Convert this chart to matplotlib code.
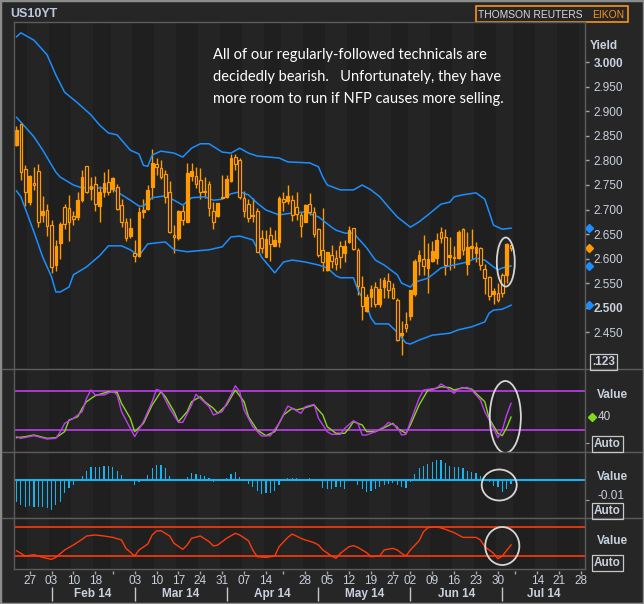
import numpy as np
import pandas as pd
import matplotlib
matplotlib.use("Agg")
import matplotlib.pyplot as plt
from matplotlib.patches import Ellipse, Rectangle
from matplotlib.lines import Line2D
from matplotlib.transforms import blended_transform_factory

plt.rcParams['font.family'] = ['Liberation Sans', 'DejaVu Sans']

# trading calendar (bond market holidays skipped)
holidays = ["2014-02-17", "2014-04-18", "2014-05-26", "2014-07-04"]
days = pd.bdate_range("2014-01-22", "2014-07-31", freq="C", holidays=holidays)

# daily candles, US 10y yield, 22 Jan - 03 Jul 2014
opens = [2.832, 2.874, 2.783, 2.716, 2.755, 2.779, 2.689, 2.700, 2.669, 2.586,
         2.631, 2.705, 2.703, 2.686, 2.684, 2.719, 2.789, 2.741, 2.752, 2.708,
         2.735, 2.757, 2.742, 2.745, 2.709, 2.675, 2.646, 2.611, 2.605, 2.694,
         2.701, 2.745, 2.792, 2.784, 2.772, 2.735, 2.648, 2.641, 2.697, 2.675,
         2.769, 2.768, 2.760, 2.738, 2.751, 2.697, 2.686, 2.724, 2.726, 2.758,
         2.808, 2.801, 2.724, 2.711, 2.686, 2.697, 2.641, 2.604, 2.648, 2.626,
         2.633, 2.721, 2.717, 2.719, 2.705, 2.689, 2.675, 2.711, 2.694, 2.660,
         2.618, 2.576, 2.607, 2.601, 2.626, 2.612, 2.633, 2.662, 2.618, 2.543,
         2.493, 2.521, 2.543, 2.508, 2.543, 2.554, 2.540, 2.516, 2.444, 2.467,
         2.484, 2.528, 2.595, 2.599, 2.580, 2.596, 2.602, 2.654, 2.645, 2.604,
         2.601, 2.602, 2.660, 2.590, 2.622, 2.612, 2.621, 2.579, 2.562, 2.527,
         2.529, 2.567, 2.567, 2.628]
highs = [2.871, 2.878, 2.791, 2.770, 2.787, 2.792, 2.728, 2.711, 2.679, 2.638,
         2.675, 2.711, 2.730, 2.697, 2.735, 2.781, 2.789, 2.767, 2.769, 2.747,
         2.776, 2.782, 2.767, 2.751, 2.721, 2.682, 2.682, 2.638, 2.706, 2.721,
         2.750, 2.823, 2.806, 2.801, 2.781, 2.758, 2.669, 2.700, 2.709, 2.794,
         2.794, 2.786, 2.784, 2.767, 2.758, 2.716, 2.714, 2.770, 2.770, 2.813,
         2.813, 2.804, 2.738, 2.722, 2.724, 2.704, 2.658, 2.658, 2.664, 2.658,
         2.728, 2.735, 2.750, 2.730, 2.735, 2.694, 2.712, 2.733, 2.706, 2.663,
         2.703, 2.614, 2.628, 2.618, 2.636, 2.638, 2.667, 2.663, 2.622, 2.565,
         2.527, 2.546, 2.553, 2.561, 2.563, 2.570, 2.550, 2.519, 2.472, 2.492,
         2.536, 2.599, 2.618, 2.648, 2.631, 2.635, 2.652, 2.664, 2.660, 2.645,
         2.626, 2.658, 2.663, 2.655, 2.660, 2.633, 2.624, 2.588, 2.565, 2.540,
         2.550, 2.570, 2.631, 2.629]
lows = [2.830, 2.760, 2.708, 2.709, 2.740, 2.664, 2.674, 2.647, 2.570, 2.574,
        2.599, 2.660, 2.635, 2.669, 2.679, 2.716, 2.733, 2.719, 2.697, 2.675,
        2.726, 2.730, 2.735, 2.699, 2.664, 2.635, 2.643, 2.593, 2.604, 2.682,
        2.699, 2.722, 2.770, 2.762, 2.714, 2.652, 2.611, 2.638, 2.669, 2.674,
        2.758, 2.743, 2.722, 2.723, 2.686, 2.660, 2.684, 2.723, 2.724, 2.757,
        2.781, 2.722, 2.684, 2.675, 2.675, 2.614, 2.611, 2.603, 2.596, 2.626,
        2.624, 2.697, 2.711, 2.677, 2.679, 2.645, 2.674, 2.689, 2.645, 2.604,
        2.575, 2.574, 2.580, 2.577, 2.580, 2.594, 2.631, 2.618, 2.526, 2.475,
        2.491, 2.502, 2.502, 2.502, 2.519, 2.519, 2.517, 2.432, 2.404, 2.451,
        2.475, 2.523, 2.567, 2.567, 2.529, 2.594, 2.588, 2.631, 2.567, 2.577,
        2.580, 2.599, 2.607, 2.567, 2.599, 2.594, 2.577, 2.527, 2.516, 2.507,
        2.511, 2.521, 2.550, 2.616]
closes = [2.862, 2.776, 2.736, 2.768, 2.749, 2.675, 2.697, 2.667, 2.582, 2.625,
          2.671, 2.670, 2.675, 2.680, 2.719, 2.766, 2.736, 2.748, 2.711, 2.736,
          2.755, 2.736, 2.765, 2.701, 2.675, 2.643, 2.663, 2.605, 2.694, 2.699,
          2.740, 2.794, 2.786, 2.767, 2.726, 2.654, 2.644, 2.698, 2.679, 2.774,
          2.779, 2.751, 2.736, 2.735, 2.704, 2.674, 2.714, 2.726, 2.762, 2.806,
          2.792, 2.726, 2.696, 2.682, 2.689, 2.614, 2.621, 2.640, 2.629, 2.638,
          2.723, 2.716, 2.728, 2.688, 2.690, 2.667, 2.709, 2.694, 2.650, 2.607,
          2.594, 2.613, 2.596, 2.590, 2.603, 2.626, 2.658, 2.620, 2.545, 2.504,
          2.521, 2.538, 2.508, 2.538, 2.557, 2.536, 2.519, 2.434, 2.448, 2.458,
          2.536, 2.596, 2.607, 2.584, 2.599, 2.616, 2.638, 2.641, 2.586, 2.607,
          2.603, 2.655, 2.618, 2.624, 2.626, 2.624, 2.586, 2.560, 2.523, 2.533,
          2.516, 2.529, 2.630, 2.621]

# Bollinger bands (sampled, day index -> yield)
upper_idx = [0, 1, 4, 7, 9, 11, 14, 17, 19, 21, 23, 26, 28, 29, 30, 31, 33, 36, 38, 40,
             42, 44, 47, 49, 51, 53, 55, 60, 62, 67, 69, 70, 71, 74, 77, 79, 81, 83, 85, 87,
             90, 92, 94, 97, 99, 100, 102, 105, 107, 108, 109, 111, 113]
upper_val = [3.052, 3.060, 3.045, 3.015, 2.974, 2.939, 2.917, 2.893, 2.872, 2.856,
             2.852, 2.821, 2.813, 2.790, 2.788, 2.811, 2.819, 2.815, 2.807, 2.825,
             2.834, 2.834, 2.817, 2.815, 2.825, 2.815, 2.809, 2.805, 2.797, 2.795,
             2.787, 2.766, 2.750, 2.740, 2.740, 2.750, 2.740, 2.726, 2.705, 2.685,
             2.664, 2.675, 2.689, 2.711, 2.715, 2.726, 2.730, 2.734, 2.721, 2.695,
             2.668, 2.660, 2.662]
mid_idx = [0, 1, 4, 6, 9, 10, 13, 15, 19, 22, 23, 26, 28, 29, 31, 34, 36, 38, 40, 43,
           45, 47, 49, 51, 53, 55, 57, 60, 63, 66, 69, 72, 73, 75, 77, 80, 82, 84, 87, 88,
           90, 91, 94, 97, 100, 103, 105, 107, 109, 110, 111, 113]
mid_val = [2.888, 2.878, 2.848, 2.821, 2.776, 2.766, 2.750, 2.744, 2.744, 2.742,
           2.736, 2.719, 2.707, 2.707, 2.724, 2.728, 2.719, 2.709, 2.724, 2.726,
           2.719, 2.721, 2.732, 2.736, 2.730, 2.713, 2.699, 2.689, 2.693, 2.695,
           2.685, 2.664, 2.658, 2.652, 2.652, 2.622, 2.597, 2.587, 2.567, 2.550,
           2.542, 2.552, 2.560, 2.581, 2.587, 2.593, 2.601, 2.597, 2.583, 2.577,
           2.581, 2.585]
lower_idx = [0, 1, 4, 6, 8, 9, 10, 12, 13, 16, 19, 21, 24, 26, 28, 30, 34, 36, 39, 44,
             47, 49, 51, 54, 56, 59, 61, 63, 66, 69, 71, 73, 74, 77, 78, 80, 81, 82, 85, 87,
             89, 90, 92, 95, 99, 101, 104, 107, 108, 109, 111, 113]
lower_val = [2.738, 2.726, 2.654, 2.603, 2.563, 2.532, 2.532, 2.542, 2.567, 2.583,
             2.606, 2.626, 2.626, 2.618, 2.606, 2.630, 2.634, 2.618, 2.614, 2.618,
             2.624, 2.644, 2.646, 2.638, 2.603, 2.571, 2.593, 2.597, 2.593, 2.587,
             2.581, 2.565, 2.561, 2.561, 2.536, 2.505, 2.479, 2.467, 2.467, 2.450,
             2.428, 2.426, 2.434, 2.444, 2.448, 2.455, 2.461, 2.471, 2.489, 2.495,
             2.497, 2.505]

# slow stochastic (%K magenta, %D green)
stk_idx = [0, 1, 4, 7, 9, 10, 11, 13, 15, 16, 17, 18, 20, 22, 23, 24, 26, 27, 29, 31,
           32, 33, 35, 37, 38, 40, 41, 42, 44, 45, 47, 49, 50, 51, 52, 54, 56, 58, 60, 62,
           63, 65, 66, 68, 69, 71, 72, 74, 75, 77, 78, 79, 80, 82, 84, 85, 87, 88, 89, 90,
           92, 93, 94, 96, 97, 98, 100, 101, 103, 104, 106, 107, 109, 110, 111, 112, 113]
stk_val = [10.3, 7.7, 11.8, 6.7, 7.7, 17.9, 30.6, 38.3, 48.4, 68.8, 81.5, 73.9, 73.9, 80.0,
           73.9, 48.4, 23.0, 10.3, 33.2, 63.7, 82.5, 80.0, 53.5, 32.1, 32.1, 58.6, 74.9,
           68.8, 56.1, 43.4, 48.4, 73.9, 88.1, 79.0, 51.0, 25.5, 11.3, 11.8, 30.6, 57.1,
           53.5, 45.9, 56.1, 59.6, 38.3, 17.9, 13.8, 13.8, 23.0, 34.7, 30.6, 12.8, 12.8,
           17.9, 25.5, 32.1, 25.5, 12.8, 13.8, 33.2, 68.8, 81.5, 82.5, 84.1, 90.7, 86.6,
           76.4, 83.0, 85.6, 81.5, 66.3, 48.4, 23.0, 8.7, 20.4, 43.4, 61.2]
std_idx = [0, 2, 4, 7, 9, 11, 12, 14, 15, 16, 18, 19, 21, 23, 24, 26, 27, 29, 31, 33,
           34, 36, 37, 39, 40, 42, 43, 45, 46, 48, 50, 52, 53, 55, 57, 59, 61, 63, 64, 66,
           68, 70, 71, 73, 75, 76, 77, 79, 80, 82, 84, 86, 87, 89, 90, 92, 94, 95, 97, 99,
           100, 102, 104, 105, 107, 108, 110, 111, 112, 113]
std_val = [8.7, 10.3, 12.8, 7.7, 8.7, 17.9, 35.7, 40.8, 53.5, 63.7, 72.9, 74.9, 79.0, 78.0,
           61.2, 38.3, 17.9, 30.6, 58.6, 79.0, 71.4, 48.4, 33.2, 48.4, 63.7, 71.4, 63.7,
           53.5, 45.9, 58.6, 81.5, 63.7, 40.8, 20.4, 11.8, 17.9, 43.4, 53.5, 51.0, 54.5,
           58.6, 43.4, 25.5, 15.4, 15.4, 23.0, 33.2, 28.1, 17.9, 17.9, 24.0, 30.6, 23.0,
           15.4, 28.1, 58.6, 81.5, 82.5, 86.6, 85.1, 81.5, 85.1, 83.0, 76.4, 63.7, 38.3,
           15.4, 11.8, 24.0, 40.2]

# MACD histogram, one bar per day
hist_val = [-0.0107, -0.0123, -0.0135, -0.0128, -0.0132, -0.0135, -0.0132, -0.0140, -0.0148, -0.0123,
            -0.0107, -0.0062, -0.0040, -0.0023, 0.0000, 0.0022, 0.0048, 0.0065, 0.0065, 0.0065,
            0.0072, 0.0072, 0.0065, 0.0048, 0.0027, 0.0005, 0.0000, -0.0025, -0.0008, 0.0003,
            0.0027, 0.0060, 0.0077, 0.0077, 0.0060, 0.0022, 0.0000, 0.0000, 0.0003, 0.0015,
            0.0035, 0.0032, 0.0027, 0.0022, 0.0012, -0.0008, 0.0000, 0.0003, 0.0012, 0.0032,
            0.0042, 0.0018, 0.0000, -0.0018, -0.0035, -0.0052, -0.0068, -0.0065, -0.0065, -0.0052,
            -0.0023, 0.0000, 0.0012, 0.0012, 0.0012, 0.0000, 0.0008, 0.0012, 0.0000, 0.0000,
            -0.0040, -0.0045, -0.0045, -0.0035, -0.0035, -0.0045, 0.0000, 0.0000, -0.0023, -0.0045,
            -0.0057, -0.0052, -0.0045, -0.0032, -0.0023, -0.0018, -0.0012, -0.0023, -0.0035, -0.0040,
            -0.0008, 0.0032, 0.0060, 0.0072, 0.0082, 0.0093, 0.0102, 0.0102, 0.0085, 0.0072,
            0.0065, 0.0065, 0.0060, 0.0048, 0.0043, 0.0035, 0.0022, 0.0000, -0.0008, -0.0028,
            -0.0032, -0.0057, -0.0045, -0.0018]

# RSI (sampled)
rsi_idx = [0, 1, 2, 4, 6, 8, 9, 11, 13, 15, 16, 18, 20, 22, 24, 25, 27, 28, 30, 31,
           32, 33, 35, 36, 38, 39, 40, 42, 44, 45, 46, 48, 50, 51, 53, 54, 55, 57, 59, 60,
           62, 63, 65, 66, 68, 69, 70, 72, 73, 74, 76, 77, 78, 80, 81, 83, 84, 86, 87, 88,
           89, 90, 92, 93, 94, 96, 98, 100, 102, 103, 105, 106, 107, 109, 110, 111, 113]
rsi_val = [37.7, 34.1, 30.4, 32.2, 28.5, 25.8, 28.5, 38.7, 45.6, 53.4, 58.0, 59.4, 58.0, 56.1,
           52.5, 41.0, 30.4, 38.7, 46.9, 59.4, 64.9, 65.3, 58.0, 47.9, 39.6, 45.6, 54.8, 58.0,
           50.2, 44.2, 45.6, 54.8, 61.7, 59.4, 51.5, 38.7, 29.5, 28.5, 30.4, 43.3, 56.1, 60.7,
           54.8, 52.5, 48.8, 45.6, 38.7, 30.4, 27.2, 34.1, 43.3, 44.6, 42.3, 35.0, 29.5, 30.4,
           38.7, 41.0, 38.7, 34.1, 30.4, 38.7, 51.5, 63.9, 69.5, 70.9, 67.2, 62.6, 56.1, 56.1,
           56.1, 52.5, 43.3, 34.1, 26.7, 30.4, 45.6]

# date axis
day_ticks = ["2014-01-27", "2014-02-03", "2014-02-10", "2014-02-18", "2014-03-03",
             "2014-03-10", "2014-03-17", "2014-03-24", "2014-03-31", "2014-04-07",
             "2014-04-14", "2014-04-28", "2014-05-05", "2014-05-12", "2014-05-19",
             "2014-05-27", "2014-06-02", "2014-06-09", "2014-06-16", "2014-06-23",
             "2014-06-30", "2014-07-14", "2014-07-21", "2014-07-28"]
blank_ticks = ["2014-02-24", "2014-04-21", "2014-07-07"]
month_labels = ["Feb 14", "Mar 14", "Apr 14", "May 14", "Jun 14", "Jul 14"]

note = ["All of our regularly-followed technicals are",
        "decidedly bearish.   Unfortunately, they have",
        "more room to run if NFP causes more selling."]

# colours
BG = '#1f1f1f'
STRIPE = '#242424'
FRAME = '#262626'
GRID = '#5c5c5c'
LBL = '#c9d1de'
ORANGE = '#ff9a00'
BLUE = '#1b8fff'
MAGENTA = '#c23cf2'
GREEN = '#84d81c'
CYAN = '#18b4f2'
RED = '#ff3a0a'
RING = '#d6d6d6'

W, H = 644, 604
XMIN, XMAX = -0.57, 129.9

fig = plt.figure(figsize=(W / 100, H / 100), dpi=100)
fig.patch.set_facecolor(FRAME)


def fx(px):
    return px / W


def fy(py):
    return 1 - py / H


def panel(top, bottom):
    a = fig.add_axes([fx(14), fy(bottom), fx(585) - fx(14), (bottom - top) / H])
    a.set_facecolor(BG)
    a.set_xlim(XMIN, XMAX)
    a.set_xticks([])
    for s in a.spines.values():
        s.set_visible(False)
    return a


ax = panel(22, 368)
ax_st = panel(369, 451)
ax_h = panel(452, 517)
ax_r = panel(518, 569)
ax_d = fig.add_axes([fx(14), 0, fx(585) - fx(14), fy(569)])
ax_d.set_xlim(XMIN, XMAX)
ax_d.set_ylim(0, 1)
ax_d.axis('off')

# weekly background stripes
wk = days.isocalendar().week.to_numpy()
week_starts = [0] + [j for j in range(1, len(days)) if wk[j] != wk[j - 1]]
week_ends = week_starts[1:] + [len(days)]
for a in (ax, ax_st, ax_h, ax_r):
    for k, (s0, s1) in enumerate(zip(week_starts, week_ends)):
        if k % 2 == 1:
            a.axvspan(s0 - 0.5, s1 - 0.5, color=STRIPE, lw=0, zorder=0)

x = np.arange(len(closes))
o = np.array(opens)
c = np.array(closes)

# --- main panel: candles + bollinger
ax.vlines(x, lows, highs, color=ORANGE, lw=1.0, zorder=2)
face = [ORANGE if cc > oo else BG for oo, cc in zip(o, c)]
ax.bar(x, np.maximum(np.abs(c - o), 0.0015), bottom=np.minimum(o, c), width=0.62,
       color=face, edgecolor=ORANGE, linewidth=0.9, zorder=3)
for bi, bv in ((upper_idx, upper_val), (mid_idx, mid_val), (lower_idx, lower_val)):
    ax.plot(bi, bv, color=BLUE, lw=1.1, zorder=2)

ax.set_ylim(2.3771, 3.0821)
ax.yaxis.tick_right()
yt = np.round(np.arange(2.45, 3.0001, 0.05), 3)
ax.set_yticks(yt)
ax.set_yticklabels([f"{v:.3f}" for v in yt])
ax.tick_params(axis='y', length=3, width=1, color='#a0a8b4', labelcolor=LBL,
               labelsize=8.5, pad=3)
for t, v in zip(ax.get_yticklabels(), yt):
    if v in (3.0, 2.5):
        t.set_fontweight('bold')

edge = blended_transform_factory(ax.transAxes, ax.transData)
for v, col in ((upper_val[-1], BLUE), (closes[-1], ORANGE), (mid_val[-1], BLUE), (lower_val[-1], BLUE)):
    ax.plot([1.007], [v], marker='D', ms=4.5, color=col, transform=edge, clip_on=False, zorder=5)

ax.add_patch(Ellipse((111.8, 2.593), 4.1, 0.100, fill=False, ec=RING, lw=1.3, zorder=6))

for k, line in enumerate(note):
    fig.text(fx(213), fy(55 + 22 * k), line, color='white', fontsize=10.5,
             family=['Lato', 'DejaVu Sans'], va='center')

# --- stochastic
ax_st.set_ylim(-11.6, 113.6)
ax_st.axhline(80, color=MAGENTA, lw=1.2, zorder=1)
ax_st.axhline(20, color=MAGENTA, lw=1.2, zorder=1)
ax_st.plot(std_idx, std_val, color=GREEN, lw=1.0, zorder=2)
ax_st.plot(stk_idx, stk_val, color=MAGENTA, lw=1.0, zorder=3)
ax_st.yaxis.tick_right()
ax_st.set_yticks([0])
ax_st.set_yticklabels([''])
ax_st.tick_params(axis='y', length=3, color='#a0a8b4')
edge_st = blended_transform_factory(ax_st.transAxes, ax_st.transData)
ax_st.plot([1.012], [std_val[-1]], marker='D', ms=4, color=GREEN, transform=edge_st, clip_on=False)
ax_st.text(1.022, std_val[-1], f"{std_val[-1]:.0f}", transform=edge_st, color=LBL,
           fontsize=8.5, va='center')
ax_st.add_patch(Ellipse((111.7, 40.3), 7.1, 110, fill=False, ec=RING, lw=1.3, zorder=6, clip_on=False))

# --- histogram
ax_h.set_ylim(-0.01835, 0.01415)
ax_h.axhline(0, color=CYAN, lw=1.5, zorder=2)
ax_h.bar(x, hist_val, width=0.28, color=CYAN, zorder=3)
ax_h.yaxis.tick_right()
ax_h.set_yticks([-0.01])
ax_h.set_yticklabels([''])
ax_h.tick_params(axis='y', length=3, color='#a0a8b4')
ax_h.add_patch(Ellipse((110.3, -0.00235), 8.0, 0.0155, fill=False, ec=RING, lw=1.3, zorder=6))

# --- RSI
ax_r.set_ylim(12.5, 82.8)
ax_r.axhline(70, color=RED, lw=1.2, zorder=1)
ax_r.axhline(30, color=RED, lw=1.2, zorder=1)
ax_r.plot(rsi_idx, rsi_val, color=RED, lw=1.0, zorder=2)
ax_r.set_yticks([])
ax_r.add_patch(Ellipse((111.0, 44.2), 7.8, 52.4, fill=False, ec=RING, lw=1.3, zorder=6, clip_on=False))

# --- date axis
pos = {d: k for k, d in enumerate(days)}
tick_x = [pos[pd.Timestamp(d)] for d in day_ticks]
blank_x = [pos[pd.Timestamp(d)] for d in blank_ticks]
ax_d.vlines(tick_x + blank_x, 0.857, 0.943, color='#a0a8b4', lw=1)
for tx, d in zip(tick_x, day_ticks):
    ax_d.text(tx, 0.66, d[-2:], color=LBL, fontsize=8.5, ha='center', va='center')
month_x = [int(np.argmax(days.month == m)) for m in range(2, 8)]
ax_d.vlines(month_x, 0.086, 0.486, color='#c8c8c8', lw=1)
bounds = month_x + [XMAX]
for k, lab in enumerate(month_labels):
    ax_d.text((bounds[k] + bounds[k + 1]) / 2, 0.29, lab, color=LBL, fontsize=8.5,
              fontweight='bold', ha='center', va='center')

# --- frame lines
def hline(py, x0, x1):
    fig.add_artist(Line2D([fx(x0), fx(x1)], [fy(py), fy(py)], color=GRID, lw=1))


def vline(px, y0, y1):
    fig.add_artist(Line2D([fx(px), fx(px)], [fy(y0), fy(y1)], color=GRID, lw=1))


hline(22, 14, 585)
for py in (368.5, 451.5, 517.5):
    hline(py, 2, 642)
hline(569, 14, 585)
vline(14, 22, 569)
vline(585, 22, 569)
fig.add_artist(Rectangle((0, 0), 1, 1, transform=fig.transFigure, fill=False, ec='#8c8c8c', lw=2.5))

# --- header and right side labels
fig.text(fx(10), fy(14), "US10YT", color='#bcc8e0', fontsize=9, fontweight='bold', va='center')
fig.add_artist(Rectangle((fx(476), fy(22)), fx(628) - fx(476), 16 / H, transform=fig.transFigure,
                         fill=False, ec='#f7941d', lw=1.2))
fig.text(fx(583), fy(14.5), "THOMSON REUTERS", color='#d8d8d8', fontsize=7.4,
         ha='right', va='center')
fig.text(fx(624), fy(14.5), "EIKON", color='#f7941d', fontsize=7.4, ha='right', va='center')
fig.text(fx(590), fy(46), "Yield", color=LBL, fontsize=8.5, fontweight='bold', va='center')

box = dict(boxstyle='square,pad=0.15', fc='none', ec='#c8c8c8', lw=0.9)
fig.text(fx(592), fy(362), ".123", color=LBL, fontsize=8.5, fontweight='bold', va='center', bbox=box)
for py in (395, 477, 541):
    fig.text(fx(597), fy(py), "Value", color=LBL, fontsize=8.5, fontweight='bold', va='center')
for py in (444, 511, 563):
    fig.text(fx(594), fy(py), "Auto", color=LBL, fontsize=8.5, fontweight='bold', va='center', bbox=box)
fig.text(fx(598), fy(496), "-0.01", color=LBL, fontsize=8.5, va='center')

fig.savefig("out.png", dpi=100, facecolor=fig.get_facecolor())
